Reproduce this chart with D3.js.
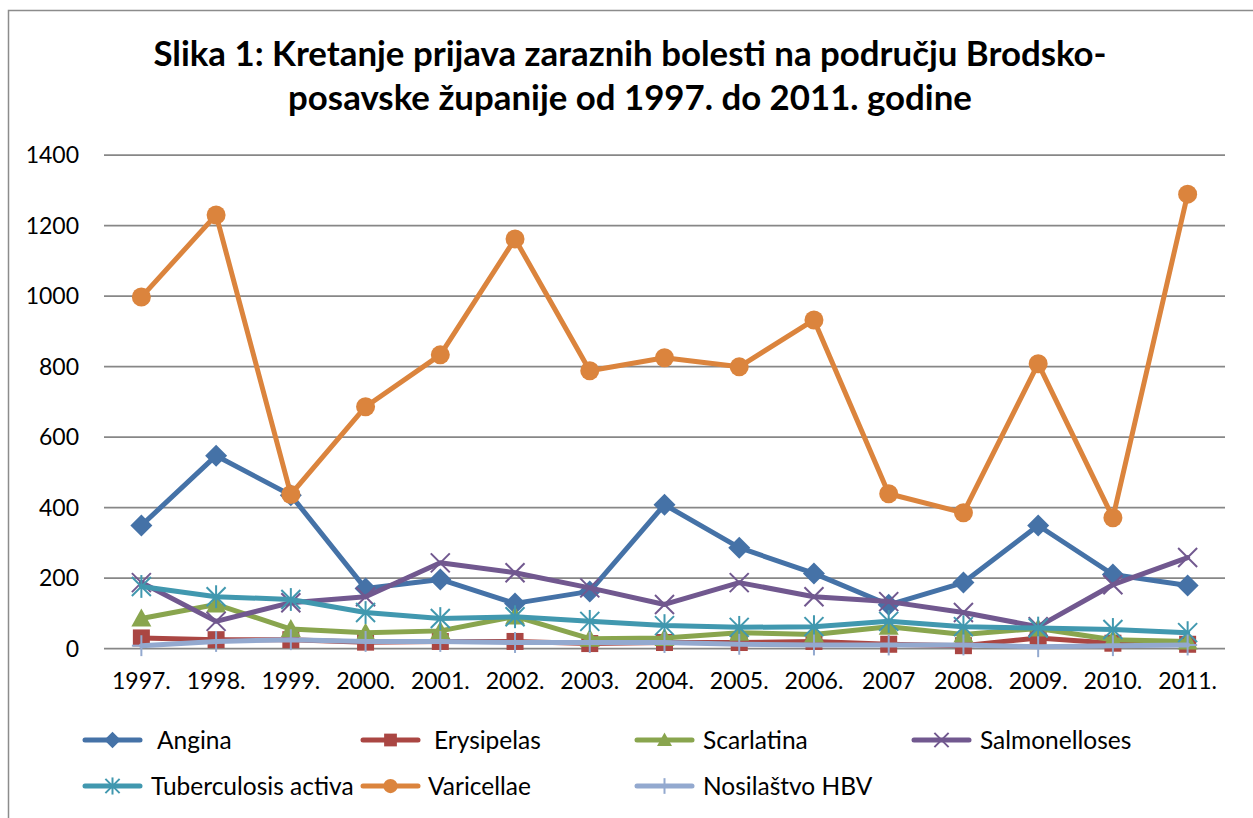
<!DOCTYPE html>
<html>
<head>
<meta charset="utf-8">
<script src="https://cdn.jsdelivr.net/npm/d3@7"></script>
<style>
  body { margin: 0; background: #fff; }
  text { font-family: Lato, "Open Sans", sans-serif; fill: #000; }
</style>
</head>
<body>
<div id="chart"></div>
<script>
// Data
const years = ["1997.", "1998.", "1999.", "2000.", "2001.", "2002.", "2003.", "2004.", "2005.", "2006.", "2007", "2008.", "2009.", "2010.", "2011."];
const yTicks = [0, 200, 400, 600, 800, 1000, 1200, 1400];

const angina        = [349, 547, 435, 170, 196, 128, 162, 408, 286, 213, 124, 187, 349, 210, 179];
const erysipelas    = [30, 25, 25, 18, 20, 20, 14, 17, 17, 20, 12, 8, 30, 15, 12];
const scarlatina    = [85, 125, 55, 45, 50, 91, 28, 30, 45, 40, 62, 40, 57, 25, 20];
const salmonelloses = [187, 77, 130, 147, 243, 215, 172, 125, 187, 147, 133, 102, 62, 181, 258];
const tuberculosis  = [176, 147, 139, 102, 85, 90, 77, 65, 60, 62, 77, 62, 58, 54, 45];
const varicellae    = [997, 1230, 437, 686, 833, 1162, 788, 825, 799, 932, 439, 385, 808, 371, 1289];
const hbv           = [8, 20, 25, 20, 20, 17, 17, 17, 12, 10, 10, 10, 5, 8, 10];

const seriesNames = ["Angina", "Erysipelas", "Scarlatina", "Salmonelloses", "Tuberculosis activa", "Varicellae", "Nosilaštvo HBV"];
const seriesValues = [angina, erysipelas, scarlatina, salmonelloses, tuberculosis, varicellae, hbv];
const seriesColors = ["#4572A7", "#AA4643", "#89A54E", "#71588F", "#4198AF", "#DB843D", "#93A9CF"];
const seriesMarkers = ["diamond", "square", "triangle", "x", "star", "circle", "plus"];

const W = 1253, H = 818;
const svg = d3.select("#chart").append("svg")
  .attr("width", W)
  .attr("height", H);

// outer chart border (runs off the right/bottom edge)
svg.append("rect")
  .attr("x", 8.5).attr("y", 10.5)
  .attr("width", 1300).attr("height", 900)
  .attr("fill", "none")
  .attr("stroke", "#8c8c8c")
  .attr("stroke-width", 1.5);

// Title
const title = svg.append("text")
  .attr("text-anchor", "middle")
  .style("font-weight", "bold")
  .style("font-size", "34.8px");
title.append("tspan").attr("x", 630).attr("y", 66)
  .text("Slika 1: Kretanje prijava zaraznih bolesti na području Brodsko-");
title.append("tspan").attr("x", 630).attr("y", 110)
  .text("posavske županije od 1997. do 2011. godine");

// Scales
const x = d3.scalePoint()
  .domain(years)
  .range([104, 1225])
  .padding(0.5);
const y = d3.scaleLinear()
  .domain([0, 1400])
  .range([648.5, 155]);

// Gridlines
svg.append("g")
  .selectAll("line")
  .data(yTicks)
  .join("line")
    .attr("x1", 104).attr("x2", 1225)
    .attr("y1", d => y(d)).attr("y2", d => y(d))
    .attr("stroke", "#878787")
    .attr("stroke-width", 1.75);

// Y axis labels
svg.append("g")
  .selectAll("text")
  .data(yTicks)
  .join("text")
    .attr("x", 79)
    .attr("y", d => y(d))
    .attr("dy", "0.35em")
    .attr("text-anchor", "end")
    .style("font-size", "23px")
    .text(d => d);

// X axis labels
svg.append("g")
  .selectAll("text")
  .data(years)
  .join("text")
    .attr("x", d => x(d))
    .attr("y", 689)
    .attr("text-anchor", "middle")
    .style("font-size", "23px")
    .text(d => d);

// Marker drawing
function drawMarker(g, type, color, s) {
  if (type === "diamond") {
    const h = 11 * s;
    g.append("path").attr("d", `M0,${-h}L${h},0L0,${h}L${-h},0Z`).attr("fill", color);
  } else if (type === "square") {
    const h = 8.5 * s;
    g.append("rect").attr("x", -h).attr("y", -h).attr("width", 2 * h).attr("height", 2 * h).attr("fill", color);
  } else if (type === "triangle") {
    const h = 10 * s;
    g.append("path").attr("d", `M0,${-h}L${h},${h * 0.8}L${-h},${h * 0.8}Z`).attr("fill", color);
  } else if (type === "circle") {
    g.append("circle").attr("r", 9.5 * s).attr("fill", color);
  } else {
    const h = 9.5 * s;
    let segs = [];
    if (type === "x" || type === "star") segs.push([-h, -h, h, h], [-h, h, h, -h]);
    if (type === "star") segs.push([0, -h * 1.2, 0, h * 1.2]);
    if (type === "plus") segs.push([0, -h * 1.1, 0, h * 1.1], [-h, 0, h, 0]);
    segs.forEach(sg => {
      g.append("line")
        .attr("x1", sg[0]).attr("y1", sg[1]).attr("x2", sg[2]).attr("y2", sg[3])
        .attr("stroke", color).attr("stroke-width", 2);
    });
  }
}

// Series
const line = d3.line()
  .x((d, i) => x(years[i]))
  .y(d => y(d));

seriesValues.forEach((vals, k) => {
  const g = svg.append("g").attr("class", "series-" + k);
  g.append("path")
    .attr("d", line(vals))
    .attr("fill", "none")
    .attr("stroke", seriesColors[k])
    .attr("stroke-width", 5)
    .attr("stroke-linejoin", "round")
    .attr("stroke-linecap", "round");
  vals.forEach((v, i) => {
    const m = g.append("g").attr("transform", `translate(${x(years[i])},${y(v)})`);
    drawMarker(m, seriesMarkers[k], seriesColors[k], 1);
  });
});

// Legend
const legendPos = [
  {lx: 85, tx: 157, y: 740},
  {lx: 363, tx: 434, y: 740},
  {lx: 637, tx: 703, y: 740},
  {lx: 914, tx: 980, y: 740},
  {lx: 85, tx: 151, y: 786},
  {lx: 363, tx: 428, y: 786},
  {lx: 637, tx: 703, y: 786}
];
seriesNames.forEach((name, k) => {
  const p = legendPos[k];
  const g = svg.append("g").attr("transform", `translate(${p.lx},${p.y})`);
  g.append("line")
    .attr("x1", 0).attr("x2", 55)
    .attr("stroke", seriesColors[k])
    .attr("stroke-width", 5)
    .attr("stroke-linecap", "round");
  const m = g.append("g").attr("transform", "translate(27.5,0)");
  drawMarker(m, seriesMarkers[k], seriesColors[k], 0.75);
  svg.append("text")
    .attr("x", p.tx)
    .attr("y", p.y)
    .attr("dy", "0.35em")
    .style("font-size", "24.5px")
    .text(name);
});
</script>
</body>
</html>
